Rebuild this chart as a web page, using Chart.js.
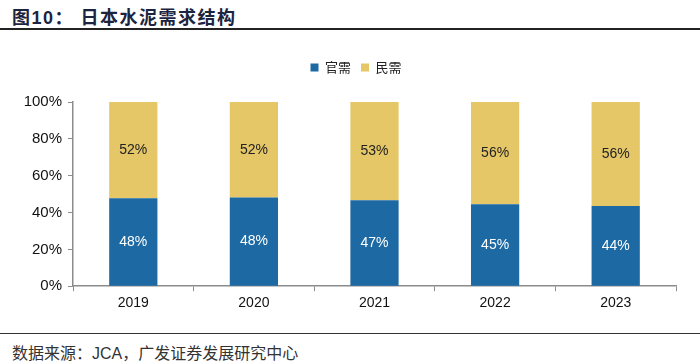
<!DOCTYPE html>
<html lang="zh">
<head>
  <meta charset="UTF-8">
  <title>日本水泥需求结构</title>
  <script src="https://cdn.jsdelivr.net/npm/chart.js@4"></script>
  <style>
    body {
      margin: 0;
      width: 700px;
      height: 364px;
      background: #fff;
      position: relative;
      overflow: hidden;
      font-family: "Liberation Sans", Arial, "Noto Sans CJK SC", sans-serif;
    }
    .title {
      position: absolute;
      left: 12px;
      top: 3px;
      font-size: 18px;
      font-weight: bold;
      color: #1b2440;
      letter-spacing: 1.5px;
    }
    .rule-top {
      position: absolute;
      left: 0; right: 0;
      top: 28px;
      border-top: 2px solid #222;
    }
    .rule-bottom {
      position: absolute;
      left: 0; right: 0;
      top: 333px;
      border-top: 1.5px solid #333;
    }
    .source {
      position: absolute;
      left: 12px;
      top: 340px;
      font-size: 16px;
      color: #333;
      font-family: "Liberation Sans", "Noto Sans CJK SC", sans-serif;
    }
    .chart-box {
      position: absolute;
      left: 0;
      top: 51px;
      width: 700px;
      height: 271px;
    }
  </style>
</head>
<body>
  <div class="title">图10：&nbsp;日本水泥需求结构</div>
  <div class="rule-top"></div>
  <div class="chart-box"><canvas id="demandChart"></canvas></div>
  <div class="rule-bottom"></div>
  <div class="source">数据来源：JCA，广发证券发展研究中心</div>

  <script>
    const years = ["2019", "2020", "2021", "2022", "2023"];
    // share of demand, %
    const publicDemand = [47.8, 48.2, 46.7, 44.5, 43.6];
    const privateDemand = [52.2, 51.8, 53.3, 55.5, 56.4];
    const yTicks = [0, 20, 40, 60, 80, 100];

    const blue = "#1d69a3";
    const yellow = "#e5c767";

    // value labels inside each segment
    const segmentLabels = {
      id: "segmentLabels",
      afterDatasetsDraw(chart) {
        const ctx = chart.ctx;
        ctx.save();
        ctx.font = "14px 'Liberation Sans', Arial, sans-serif";
        ctx.textAlign = "center";
        ctx.textBaseline = "middle";
        chart.data.datasets.forEach((ds, i) => {
          const meta = chart.getDatasetMeta(i);
          ctx.fillStyle = i === 0 ? "#ffffff" : "#222222";
          meta.data.forEach((bar, j) => {
            const y = (bar.y + bar.base) / 2;
            ctx.fillText(Math.round(ds.data[j]) + "%", bar.x, y);
          });
        });
        ctx.restore();
      }
    };

    // extra room under the legend, and nudge it right a little
    const legendGap = {
      id: "legendGap",
      beforeInit(chart) {
        const fit = chart.legend.fit;
        chart.legend.fit = function () {
          fit.bind(chart.legend)();
          this.height += 18;
        };
      },
      afterLayout(chart) {
        chart.legend.left += 18;
        chart.legend.right += 18;
      }
    };

    new Chart(document.getElementById("demandChart"), {
      type: "bar",
      data: {
        labels: years,
        datasets: [
          { label: "官需", data: publicDemand, backgroundColor: blue, categoryPercentage: 0.4, barPercentage: 1 },
          { label: "民需", data: privateDemand, backgroundColor: yellow, categoryPercentage: 0.4, barPercentage: 1 }
        ]
      },
      options: {
        responsive: true,
        maintainAspectRatio: false,
        animation: false,
        layout: { padding: { left: 0, right: 24, top: 0, bottom: 6 } },
        plugins: {
          tooltip: { enabled: false },
          legend: {
            position: "top",
            labels: {
              boxWidth: 8,
              boxHeight: 8,
              padding: 10,
              color: "#222",
              font: { size: 13, family: "'Noto Sans CJK SC', serif" }
            }
          }
        },
        scales: {
          x: {
            stacked: true,
            grid: { drawOnChartArea: false, drawTicks: true, tickLength: 5, color: "#8c8c8c" },
            border: { color: "#8c8c8c", width: 1.5 },
            ticks: { color: "#111", padding: 4, font: { size: 14, family: "'Liberation Sans', Arial" } }
          },
          y: {
            stacked: true,
            min: 0,
            max: 100,
            afterBuildTicks(axis) {
              axis.ticks = yTicks.map(v => ({ value: v }));
            },
            afterFit(axis) { axis.width = 73; },
            grid: { drawOnChartArea: false, drawTicks: true, tickLength: 5, color: "#8c8c8c" },
            border: { color: "#8c8c8c", width: 1.5 },
            ticks: {
              color: "#111",
              padding: 6,
              font: { size: 15, family: "'Liberation Sans', Arial" },
              callback: v => v + "%"
            }
          }
        }
      },
      plugins: [segmentLabels, legendGap]
    });
  </script>
</body>
</html>
